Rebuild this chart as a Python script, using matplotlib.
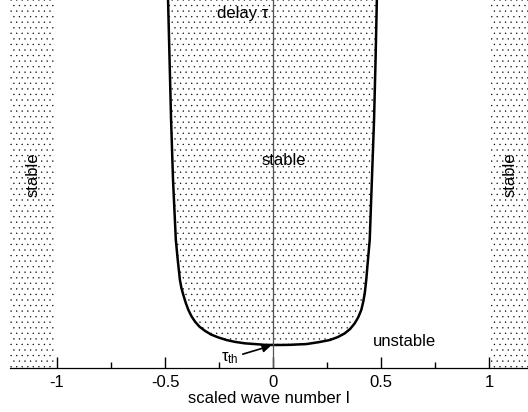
import matplotlib
matplotlib.use('Agg')
import matplotlib.pyplot as plt
from matplotlib.ticker import MultipleLocator

plt.rcParams['font.family'] = ['Liberation Sans', 'DejaVu Sans']
plt.rcParams['hatch.linewidth'] = 0.2

# neutral curve tau(l)
left_l = [-0.486, -0.479, -0.472, -0.463, -0.450, -0.441, -0.431, -0.424,
          -0.415, -0.404, -0.392, -0.378, -0.361, -0.340, -0.315, -0.287,
          -0.253, -0.215, -0.176, -0.130, -0.083, -0.040, 0.0]
left_tau = [10.0, 8.37, 6.74, 5.11, 3.48, 2.93, 2.39, 2.17,
            1.98, 1.77, 1.58, 1.41, 1.26, 1.12, 1.01, 0.91,
            0.83, 0.76, 0.71, 0.67, 0.65, 0.63, 0.625]
right_l = [0.040, 0.079, 0.115, 0.154, 0.210, 0.263, 0.300, 0.332, 0.357,
           0.378, 0.395, 0.409, 0.418, 0.425, 0.432, 0.437,
           0.448, 0.458, 0.468, 0.475, 0.481]
right_tau = [0.626, 0.63, 0.64, 0.65, 0.70, 0.76, 0.84, 0.94, 1.06,
             1.21, 1.38, 1.58, 1.80, 2.03, 2.40, 2.75,
             3.48, 5.11, 6.74, 8.37, 10.0]

l_min, l_max = -1.218, 1.181
tau_top = 10.0
stable_edge = 1.01   # outer stable bands |l| > 1.01
tau_th = 0.625

fig = plt.figure(figsize=(5.28, 4.12), dpi=100)
ax = fig.add_axes([10/528, 44/412, 518/528, 368/412])
ax.set_xlim(l_min, l_max)
ax.set_ylim(0, tau_top)

curve_l = left_l + right_l
curve_tau = left_tau + right_tau

# dotted (stable) regions
ax.fill(curve_l, curve_tau, facecolor='none', edgecolor='black',
        hatch='...', linewidth=0)
ax.fill_between([l_min, -stable_edge], 0, tau_top, facecolor='none',
                edgecolor='black', hatch='...', linewidth=0)
ax.fill_between([stable_edge, l_max], 0, tau_top, facecolor='none',
                edgecolor='black', hatch='...', linewidth=0)

ax.plot(curve_l, curve_tau, color='black', lw=1.8)
ax.axvline(0, color='#555555', lw=0.9)

for s in ['top', 'right', 'left']:
    ax.spines[s].set_visible(False)
ax.spines['bottom'].set_linewidth(0.9)
ax.set_yticks([])
ax.set_xticks([-1, -0.5, 0, 0.5, 1])
ax.set_xticklabels(['-1', '-0.5', '0', '0.5', '1'])
ax.xaxis.set_minor_locator(MultipleLocator(0.25))
ax.tick_params(axis='x', which='major', direction='in', length=8, width=1,
               labelsize=12, pad=5)
ax.tick_params(axis='x', which='minor', direction='in', length=4, width=1)
ax.set_xlabel('scaled wave number l', fontsize=12, labelpad=1)

ax.text(-0.023, 9.62, 'delay τ', fontsize=12, ha='right', va='center')
ax.text(0.05, 5.65, 'stable', fontsize=12, ha='center', va='center')
ax.text(-1.111, 5.24, 'stable', fontsize=12, ha='center', va='center',
        rotation=90)
ax.text(1.10, 5.24, 'stable', fontsize=12, ha='center', va='center',
        rotation=90)
ax.text(0.611, 0.71, 'unstable', fontsize=12, ha='center', va='center')
ax.annotate(r'$\mathregular{τ_{th}}$', xy=(-0.01, tau_th - 0.02),
            xytext=(-0.20, 0.27), fontsize=12, ha='center', va='center',
            arrowprops=dict(arrowstyle='-|>', color='black', lw=1.2,
                            shrinkA=1, shrinkB=0, mutation_scale=12))

fig.savefig('out.png', dpi=100)
